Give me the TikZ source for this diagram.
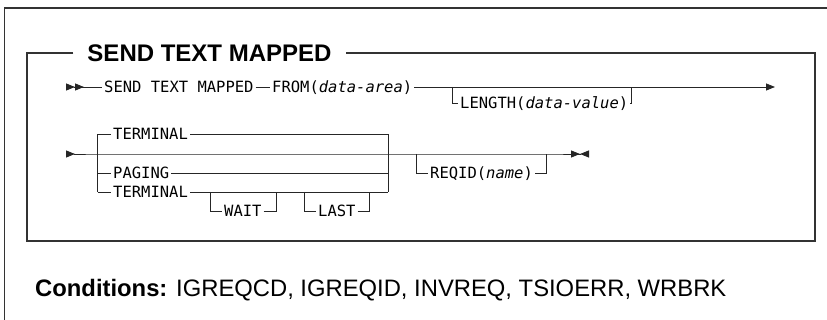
\documentclass[tikz,border=0pt]{standalone}
\usepackage{fontspec}
\setmainfont{Liberation Sans}
\newfontfamily\railfont{DejaVu Sans Mono}[ItalicFont={DejaVu Sans Mono Oblique}]
\usetikzlibrary{arrows.meta}

\begin{document}
\begin{tikzpicture}[
        x=1pt, y=-1pt,
        tri/.tip={Triangle[length=9pt, width=7pt]},
        rail/.style={line width=0.8pt, draw=black!85},
        frame/.style={line width=1.1pt, draw=black!80},
        kw/.style={font=\railfont\fontsize{15.5}{16}\selectfont, anchor=west,
            inner xsep=2pt, inner ysep=0pt, text height=11pt, text depth=0pt},
        title/.style={font=\fontsize{24}{26}\selectfont\bfseries, inner xsep=14pt}
    ]
    \useasboundingbox (0,0) rectangle (827,320);

    % frames
    \draw[frame] (4.5,320) -- (4.5,8) -- (827,8);
    \node[title] (head) at (209.5,53) {SEND TEXT MAPPED};
    \draw[frame] (head.west) -- (27,53) -- (27,241) -- (815,241) -- (815,53) -- (head.east);

    % first line
    \node[kw] (send) at (102,87) {SEND TEXT MAPPED};
    \node[kw] (from) at (270,87) {FROM(\textit{data-area})};
    \node[kw] (length) at (458,103) {LENGTH(\textit{data-value})};
    \coordinate (s1) at (66,87);
    \coordinate (e1) at (775,87);
    \coordinate (la) at (452,87);
    \coordinate (lb) at (631,87);

    \draw[rail, {tri[reversed] tri[reversed]}-] (s1) -- (send.west);
    \draw[rail] (send.east) -- (from.west);
    \draw[rail, -tri] (from.east) -- (e1);
    \draw[rail] (la) |- (length.west);
    \draw[rail] (length.east) -| (lb);

    % second line
    \node[kw] (term) at (111,134.5) {TERMINAL};
    \node[kw] (paging) at (111,173) {PAGING};
    \node[kw] (termw) at (111,192) {TERMINAL};
    \node[kw] (wait) at (222,211) {WAIT};
    \node[kw] (last) at (316,211) {LAST};
    \node[kw] (reqid) at (428,173) {REQID(\textit{name})};
    \coordinate (s2) at (66,154);
    \coordinate (ca) at (97.5,154);
    \coordinate (cb) at (388,154);
    \coordinate (ra) at (416,154);
    \coordinate (rb) at (546,154);
    \coordinate (e2) at (589,154);

    \draw[rail, {tri[reversed]}-{tri[] tri[reversed]}]
        (s2) -- (ca) -- (cb) -- (ra) -- (rb) -- (e2);
    \draw[rail] (ca |- term) -- (ca |- termw);
    \draw[rail] (cb |- term) -- (cb |- termw);
    \draw[rail] (ca |- term) -- (term.west);
    \draw[rail] (term.east) -- (cb |- term);
    \draw[rail] (ca |- paging) -- (paging.west);
    \draw[rail] (paging.east) -- (cb |- paging);
    \draw[rail] (ca |- termw) -- (termw.west);
    \draw[rail] (termw.east) -- (cb |- termw);
    \draw[rail] (210,192) |- (wait.west);
    \draw[rail] (wait.east) -| (276,192);
    \draw[rail] (304,192) |- (last.west);
    \draw[rail] (last.east) -| (369,192);
    \draw[rail] (ra) |- (reqid.west);
    \draw[rail] (reqid.east) -| (rb);

    \node[anchor=base west, font=\fontsize{23.8}{26}\selectfont, inner sep=0pt] (cond) at (35,297)
        {\textbf{Conditions:} IGREQCD, IGREQID, INVREQ, TSIOERR, WRBRK};
\end{tikzpicture}
\end{document}
